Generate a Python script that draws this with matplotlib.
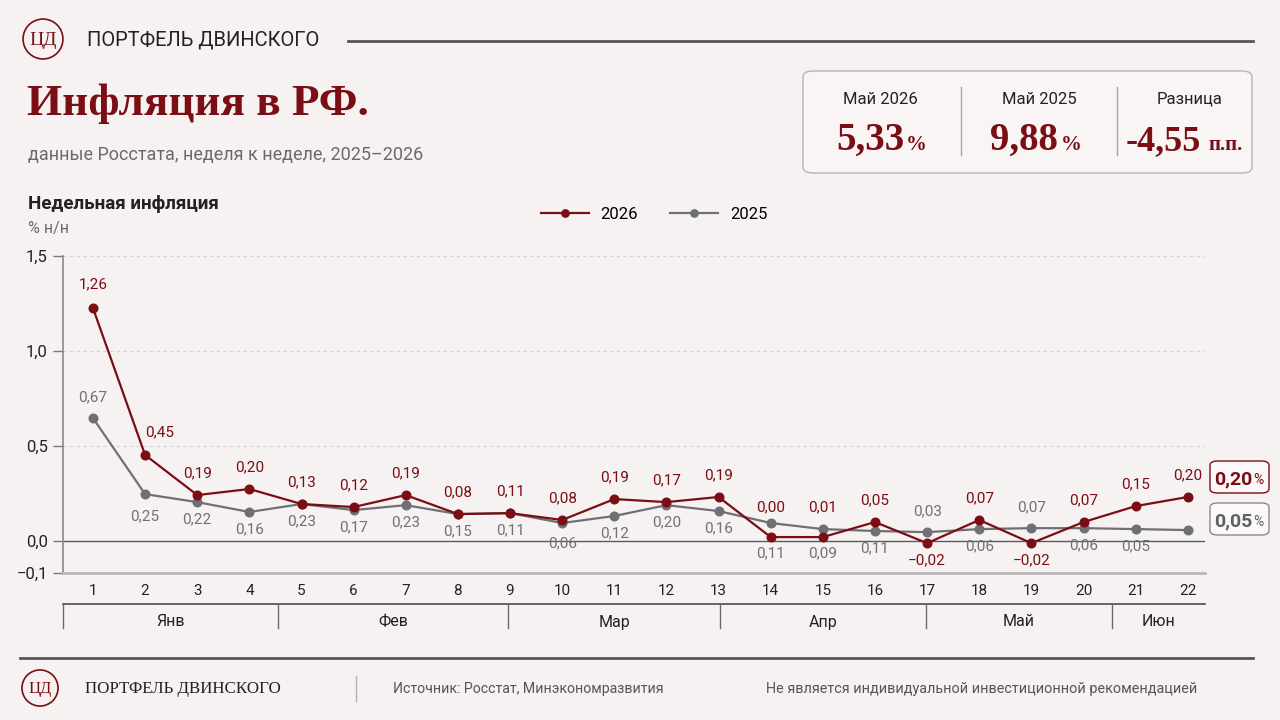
import matplotlib
matplotlib.use("Agg")
import matplotlib.pyplot as plt
from matplotlib.patches import FancyBboxPatch, Circle
from matplotlib.lines import Line2D

# ---------------- data ----------------
weeks = list(range(1, 23))
vals_2026 = [1.226, 0.453, 0.242, 0.274, 0.195, 0.179, 0.242, 0.142, 0.147, 0.111, 0.221,
             0.205, 0.232, 0.021, 0.021, 0.100, -0.011, 0.111, -0.011, 0.100, 0.184, 0.232]
vals_2025 = [0.647, 0.247, 0.205, 0.153, 0.195, 0.163, 0.189, 0.142, 0.147, 0.095, 0.132,
             0.189, 0.158, 0.095, 0.063, 0.053, 0.047, 0.063, 0.068, 0.068, 0.063, 0.058]
labels_2026 = [1.26, 0.45, 0.19, 0.20, 0.13, 0.12, 0.19, 0.08, 0.11, 0.08, 0.19,
               0.17, 0.19, 0.00, 0.01, 0.05, -0.02, 0.07, -0.02, 0.07, 0.15, 0.20]
labels_2025 = [0.67, 0.25, 0.22, 0.16, 0.23, 0.17, 0.23, 0.15, 0.11, 0.06, 0.12,
               0.20, 0.16, 0.11, 0.09, 0.11, 0.03, 0.06, 0.07, 0.06, 0.05]
months = ["Янв", "Фев", "Мар", "Апр", "Май", "Июн"]
month_bounds = [0.425, 4.55, 8.96, 13.03, 16.98, 20.54, 22.33]
yticks = [0.0, 0.5, 1.0, 1.5]
ytick_labels = ["0,0", "0,5", "1,0", "1,5"]
summary_labels = ["Май 2026", "Май 2025", "Разница"]
summary_values = ["5,33", "9,88", "-4,55"]
summary_units = ["%", "%", "п.п."]
last_2026 = "0,20"
last_2025 = "0,05"

RED = "#7a0e14"
GRAY = "#6f7075"
BG = "#f6f2f1"
DARK = "#222222"
SANS = ["Roboto", "DejaVu Sans"]
SERIF = ["Liberation Serif", "DejaVu Serif"]

plt.rcParams["font.family"] = SANS

W, H = 1280, 720
fig = plt.figure(figsize=(12.8, 7.2), dpi=100, facecolor=BG)

def fx(x):
    return x / W

def fy(y):
    return 1 - y / H

def logo_circle(cx, cy, r, fs):
    lax = fig.add_axes([fx(cx - r), fy(cy + r), 2 * r / W, 2 * r / H])
    lax.set_xlim(-1, 1); lax.set_ylim(-1, 1); lax.set_aspect("equal")
    lax.axis("off")
    lax.add_patch(Circle((0, 0), 0.95, fill=False, edgecolor=RED, lw=1.2))
    lax.text(0, -0.05, "ЦД", ha="center", va="center", color=RED,
             fontsize=fs, family=SERIF)

# ---------------- header ----------------
logo_circle(43, 39, 21, 14)
fig.text(fx(87), fy(40), "ПОРТФЕЛЬ ДВИНСКОГО", fontsize=14.5, color=DARK,
         va="center", ha="left")
fig.add_artist(Line2D([fx(348), fx(1253)], [fy(41), fy(41)], color="#55565a", lw=2))

fig.text(fx(27), fy(104), "Инфляция в РФ.", family=SERIF, fontweight="bold",
         fontsize=32.5, color=RED, va="center", ha="left")
fig.text(fx(28), fy(155), "данные Росстата, неделя к неделе, 2025–2026",
         fontsize=13, color="#6a6a6a", va="center", ha="left")

# summary box
fig.add_artist(FancyBboxPatch((fx(803), fy(173)), fx(1252) - fx(803), fy(71) - fy(173),
                              boxstyle="round,pad=0,rounding_size=0.008",
                              transform=fig.transFigure, facecolor="#f8f5f4",
                              edgecolor="#b5b3b3", lw=1.0))
for sx in [961, 1117]:
    fig.add_artist(Line2D([fx(sx), fx(sx)], [fy(87), fy(155)], color="#a9a9a9", lw=1))
centers = [880, 1039, 1190]
num_right = [905, 1058, 1201]
unit_left = [906, 1061, 1208]
num_sizes = [28, 28, 26]
for i in range(3):
    fig.text(fx(centers[i]), fy(99), summary_labels[i], fontsize=12, color=DARK,
             ha="center", va="center")
    fig.text(fx(num_right[i]), fy(150), summary_values[i], family=SERIF, fontweight="bold",
             fontsize=num_sizes[i], color=RED, ha="right", va="baseline")
    fig.text(fx(unit_left[i]), fy(150), summary_units[i], family=SERIF, fontweight="bold",
             fontsize=15, color=RED, ha="left", va="baseline")

fig.text(fx(28), fy(204), "Недельная инфляция", fontsize=13.5, fontweight="bold",
         color=DARK, ha="left", va="center")
fig.text(fx(28), fy(229), "% н/н", fontsize=11.5, color="#6a6a6a", ha="left", va="center")

# ---------------- main axes ----------------
ax_l, ax_r, ax_t, ax_b = 63, 1205, 256, 573
ax = fig.add_axes([fx(ax_l), fy(ax_b), (ax_r - ax_l) / W, (ax_b - ax_t) / H])
ax.set_facecolor("none")
ybot = -0.168
ax.set_xlim(0.425, 22.33)
ax.set_ylim(ybot, 1.5)

for g in [0.5, 1.0, 1.5]:
    ax.axhline(g, color="#d6d3d3", lw=0.8, ls=(0, (3, 3)), zorder=0)
ax.axhline(0, color="#5a5a5e", lw=1.0, zorder=1)

l26, = ax.plot(weeks, vals_2026, color=RED, lw=1.6, marker="o", ms=6.2, zorder=4, label="2026")
l25, = ax.plot(weeks, vals_2025, color=GRAY, lw=1.6, marker="o", ms=6.2, zorder=3, label="2025")

def fmt(v):
    s = f"{abs(v):.2f}".replace(".", ",")
    return ("−" if v < 0 else "") + s

# 2026 labels
for i, (w, v, lab) in enumerate(zip(weeks, vals_2026, labels_2026)):
    dx, dy = 0, 22
    if lab < 0:
        dy = -17
    if i == 0:
        dy = 24
    if i == 1:
        dx, dy = 15, 23
    if i in (13, 14):
        dy = 30
    ax.annotate(fmt(lab), (w, v), xytext=(dx, dy), textcoords="offset pixels",
                ha="center", va="center", fontsize=11, color=RED, zorder=5)

# 2025 labels
for i, (w, v, lab) in enumerate(zip(weeks, vals_2025, labels_2025)):
    dy = -17
    if i in (0, 16, 18):
        dy = 21
    if i == 1:
        dy = -22
    if i == 9:
        dy = -20
    if i == 13:
        dy = -30
    if i == 14:
        dy = -24
    ax.annotate(fmt(lab), (w, v), xytext=(0, dy), textcoords="offset pixels",
                ha="center", va="center", fontsize=11, color="#707075", zorder=5)

ax.set_yticks(yticks + [ybot])
ax.set_yticklabels(ytick_labels + ["−0,1"])
ax.set_xticks(weeks)
ax.set_xticklabels([str(w) for w in weeks])
ax.tick_params(axis="x", length=0, pad=8, labelsize=11, labelcolor=DARK)
ax.tick_params(axis="y", length=7, width=1, color="#7a7a7a", pad=4, labelsize=12,
               labelcolor=DARK)
for s in ["top", "right"]:
    ax.spines[s].set_visible(False)
ax.spines["left"].set_color("#8a8a8a")
ax.spines["left"].set_linewidth(1.2)
ax.spines["bottom"].set_color("#b9b7b7")
ax.spines["bottom"].set_linewidth(2)

# month band
tr = ax.get_xaxis_transform()
band_top = -(604 - ax_b) / (ax_b - ax_t)
band_bot = -(628 - ax_b) / (ax_b - ax_t)
band_txt = -(622 - ax_b) / (ax_b - ax_t)
ax.plot([month_bounds[0], month_bounds[-1]], [band_top, band_top], transform=tr,
        color="#5a5a5e", lw=1.3, clip_on=False)
for b in month_bounds[:-1]:
    ax.plot([b, b], [band_top, band_bot], transform=tr, color="#6a6a6a", lw=1, clip_on=False)
for m, a, b in zip(months, month_bounds[:-1], month_bounds[1:]):
    ax.text((a + b) / 2, band_txt, m, transform=tr, ha="center", va="center",
            fontsize=11.5, color=DARK)

# legend
ax.legend(handles=[l26, l25], loc="center", bbox_to_anchor=(fx(654), fy(214)),
          bbox_transform=fig.transFigure, ncol=2, frameon=False, fontsize=12,
          handlelength=2.9, columnspacing=1.9, handletextpad=0.7, markerscale=0.85)

# right-side boxes
for (yc, txt, col, ec) in [(477, last_2026, RED, RED), (519, last_2025, "#5f6064", "#8a8a8a")]:
    fig.add_artist(FancyBboxPatch((fx(1210), fy(yc + 16)), fx(1269) - fx(1210), fy(yc - 16) - fy(yc + 16),
                                  boxstyle="round,pad=0,rounding_size=0.006",
                                  transform=fig.transFigure, facecolor="#faf8f8",
                                  edgecolor=ec, lw=1.0))
    fig.text(fx(1252), fy(yc + 7), txt, fontsize=14, fontweight="bold", color=col,
             ha="right", va="baseline")
    fig.text(fx(1253), fy(yc + 7), "%", fontsize=10, color=col, ha="left", va="baseline")

# ---------------- footer ----------------
fig.add_artist(Line2D([fx(20), fx(1253)], [fy(658), fy(658)], color="#55565a", lw=2))
logo_circle(40, 688, 19, 12)
fig.text(fx(85), fy(689), "ПОРТФЕЛЬ ДВИНСКОГО", family=SERIF, fontsize=12.2, color=DARK,
         ha="left", va="center")
fig.add_artist(Line2D([fx(356), fx(356)], [fy(676), fy(701)], color="#b0b0b0", lw=1))
fig.text(fx(393), fy(689), "Источник: Росстат, Минэкономразвития", fontsize=10.2,
         color="#555555", ha="left", va="center")
fig.text(fx(1197), fy(689), "Не является индивидуальной инвестиционной рекомендацией",
         fontsize=10.4, color="#555555", ha="right", va="center")

fig.savefig("out.png", dpi=100, facecolor=BG)
